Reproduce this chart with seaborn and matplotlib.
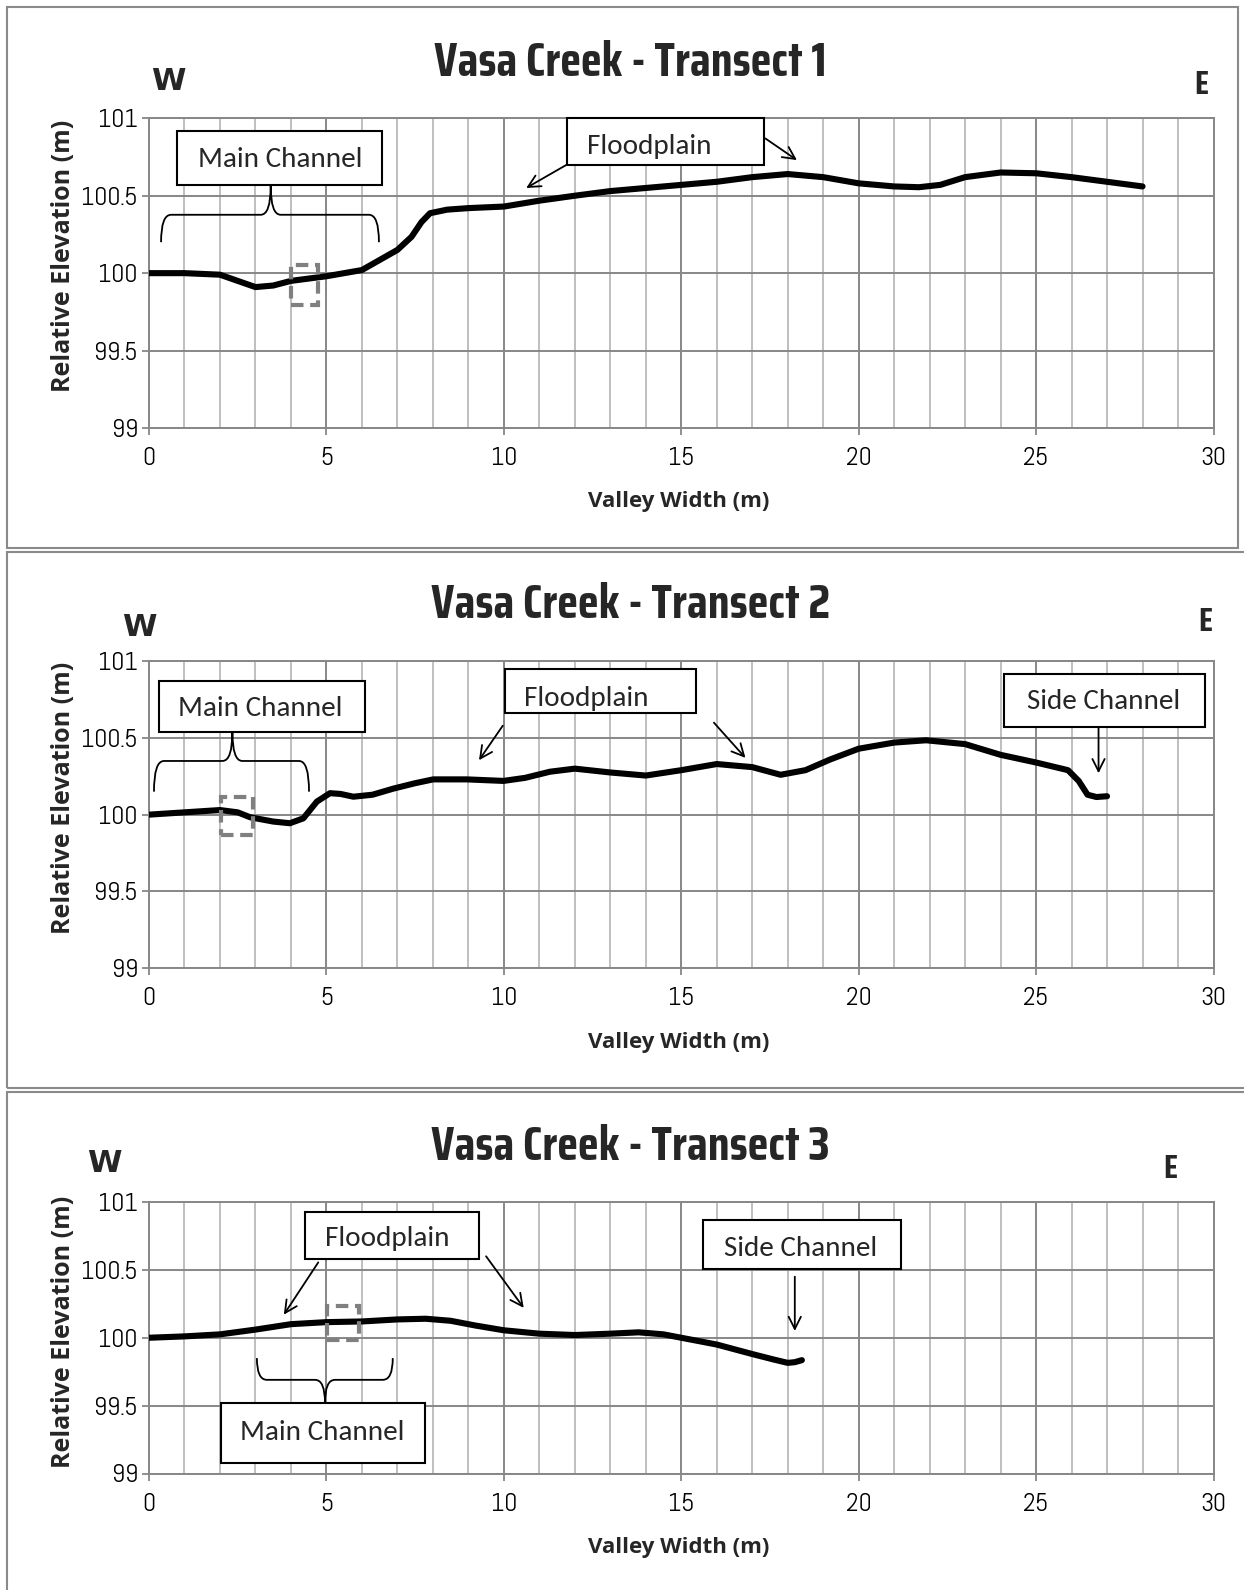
import matplotlib
matplotlib.use("Agg")
import matplotlib.pyplot as plt
import seaborn as sns
from matplotlib import font_manager
from matplotlib.patches import Rectangle, PathPatch
from matplotlib.path import Path

# ---------------- data ----------------
t1_x = [0, 1, 2, 2.5, 3, 3.5, 4, 5, 6, 6.5, 7, 7.4, 7.68, 7.92, 8.4, 9, 10, 11, 12, 13, 14,
        15, 16, 17, 18, 19, 20, 21, 21.7, 22.3, 23, 24, 25, 26, 27, 28]
t1_y = [100.0, 100.0, 99.99, 99.95, 99.91, 99.92, 99.95, 99.98, 100.02, 100.085, 100.15,
        100.235, 100.33, 100.387, 100.41, 100.42, 100.43, 100.468, 100.50, 100.53, 100.55,
        100.57, 100.59, 100.62, 100.64, 100.62, 100.58, 100.56, 100.555, 100.57, 100.62,
        100.65, 100.645, 100.62, 100.59, 100.56]

t2_x = [0, 1, 2, 2.5, 2.85, 3.5, 3.97, 4.35, 4.73, 5.1, 5.4, 5.76, 6.3, 6.89, 7.5, 8.01,
        8.95, 9.99, 10.6, 11.3, 12, 13, 14, 15, 16, 17, 17.8, 18.5, 19.2, 20, 21, 21.9, 23,
        24, 25, 25.9, 26.2, 26.45, 26.7, 27]
t2_y = [100.0, 100.015, 100.03, 100.015, 99.983, 99.955, 99.944, 99.976, 100.085, 100.14,
        100.135, 100.117, 100.13, 100.17, 100.205, 100.23, 100.23, 100.22, 100.24, 100.28,
        100.30, 100.275, 100.255, 100.29, 100.33, 100.31, 100.26, 100.29, 100.36, 100.43,
        100.47, 100.485, 100.46, 100.39, 100.34, 100.29, 100.22, 100.13, 100.115, 100.12]

t3_x = [0, 1, 2, 3, 4, 5, 6, 7, 7.8, 8.5, 9.2, 10, 11, 12, 13, 13.8, 14.5, 15, 16, 17,
        17.6, 18, 18.2, 18.4]
t3_y = [100.0, 100.01, 100.025, 100.06, 100.1, 100.115, 100.12, 100.135, 100.14, 100.125,
        100.09, 100.055, 100.03, 100.02, 100.03, 100.04, 100.025, 100.0, 99.95, 99.88,
        99.84, 99.815, 99.82, 99.835]

titles = ["Vasa Creek - Transect 1", "Vasa Creek - Transect 2", "Vasa Creek - Transect 3"]
x_ticks = [0, 5, 10, 15, 20, 25, 30]
x_tick_labels = ["0", "5", "10", "15", "20", "25", "30"]
y_ticks = [99, 99.5, 100, 100.5, 101]
y_tick_labels = ["99", "99.5", "100", "100.5", "101"]
x_label = "Valley Width (m)"
y_label = "Relative Elevation (m)"

# ---------------- style ----------------
sns.set_style("white")
_avail = {f.name for f in font_manager.fontManager.ttflist}


def pick(prefs):
    got = [p for p in prefs if p in _avail]
    return got + ["DejaVu Sans"]


TITLEFONT = pick(["Saira Extra Condensed", "Saira Condensed", "Oswald", "Barlow Condensed",
                  "Roboto Condensed", "Archivo Narrow", "Asap Condensed"])
TICKFONT = pick(["Abel", "Saira Extra Condensed", "Archivo Narrow", "Asap Condensed"])
BOXFONT = pick(["Carlito", "Lato", "Open Sans"])
LABFONT = pick(["Open Sans", "Noto Sans"])
plt.rcParams["font.family"] = ["DejaVu Sans"]

GRID_MAJ = "#878787"
GRID_MIN = "#bfbfbf"

W, H = 1244, 1590
fig = plt.figure(figsize=(W / 100, H / 100), dpi=100)


def fx(px):
    return px / W


def fy(py):
    return 1 - py / H


for (l, t, r, b) in [(7, 7, 1238, 548), (7, 552, 1250, 1088), (7, 1092, 1250, 1600)]:
    fig.add_artist(Rectangle((fx(l), fy(b)), fx(r - l), (b - t) / H, fill=False,
                             edgecolor="#8a8a8a", lw=1.5, transform=fig.transFigure))

L, R = 149, 1213.5
axes_px = [(118.3, 428), (661.3, 968), (1202, 1473.5)]
title_y = [62, 604, 1146]
w_pos = [(168, 82), (139, 628), (104, 1163)]
e_pos = [(1201, 85), (1205, 622), (1170, 1169)]
ylab_frac = [0.555, 0.555, 0.52]
xlab_off = [-0.203, -0.209, -0.234]

series = [(t1_x, t1_y), (t2_x, t2_y), (t3_x, t3_y)]

boxes = [
    [((0.8, 100.567), (6.57, 100.92), "Main Channel", (3.69, 100.735)),
     ((11.77, 100.70), (17.33, 101.0), "Floodplain", (14.09, 100.82))],
    [((0.28, 100.54), (6.09, 100.87), "Main Channel", (3.14, 100.69)),
     ((10.03, 100.66), (15.41, 100.95), "Floodplain", (12.31, 100.76)),
     ((24.09, 100.57), (29.76, 100.92), "Side Channel", (26.89, 100.74))],
    [((4.4, 100.58), (9.29, 100.93), "Floodplain", (6.71, 100.73)),
     ((2.02, 99.077), (7.77, 99.52), "Main Channel", (4.89, 99.30)),
     ((15.6, 100.51), (21.2, 100.865), "Side Channel", (18.37, 100.66))],
]
arrows = [
    [((11.77, 100.70), (10.63, 100.55)), ((17.37, 100.87), (18.26, 100.73))],
    [((9.97, 100.58), (9.30, 100.355)), ((15.92, 100.60), (16.81, 100.37)),
     ((26.76, 100.565), (26.76, 100.27))],
    [((4.77, 100.555), (3.80, 100.17)), ((9.50, 100.60), (10.56, 100.22)),
     ((18.2, 100.45), (18.2, 100.05))],
]
braces = [(0.34, 6.48, 100.20, 100.377, 3.43, 100.565),
          (0.14, 4.51, 100.15, 100.35, 2.35, 100.54),
          (3.04, 6.87, 99.85, 99.69, 4.96, 99.52)]
squares = [((4.0, 99.795), (4.77, 100.053)),
           ((2.03, 99.87), (2.93, 100.115)),
           ((5.02, 99.98), (5.91, 100.236))]


def draw_brace(ax, x0, x1, yend, ybar, xt, ytip):
    dx = 0.28
    verts = [(x0, yend), (x0, ybar), (x0 + dx, ybar),
             (xt - dx, ybar), (xt, ybar), (xt, ytip),
             (xt, ybar), (xt + dx, ybar),
             (x1 - dx, ybar), (x1, ybar), (x1, yend)]
    codes = [Path.MOVETO, Path.CURVE3, Path.CURVE3,
             Path.LINETO, Path.CURVE3, Path.CURVE3,
             Path.CURVE3, Path.CURVE3,
             Path.LINETO, Path.CURVE3, Path.CURVE3]
    ax.add_patch(PathPatch(Path(verts, codes), fill=False, edgecolor="black",
                           lw=1.3, zorder=6, clip_on=False))


for i, (top, bot) in enumerate(axes_px):
    ax = fig.add_axes([fx(L), fy(bot), (R - L) / W, (bot - top) / H])
    xs, ys = series[i]
    sns.lineplot(x=xs, y=ys, ax=ax, color="black", linewidth=4.4, sort=False,
                 estimator=None, zorder=4, solid_capstyle="round", solid_joinstyle="round")
    ax.set_xlim(0, 30)
    ax.set_ylim(99, 101)
    ax.set_xticks(x_ticks)
    ax.set_xticks(range(0, 31), minor=True)
    ax.set_yticks(y_ticks)
    ax.set_xticklabels(x_tick_labels, fontfamily=TICKFONT, fontsize=18.5)
    ax.set_yticklabels(y_tick_labels, fontfamily=TICKFONT, fontsize=18.5)
    ax.set_axisbelow(True)
    ax.grid(which="major", color=GRID_MAJ, lw=1.4)
    ax.grid(which="minor", axis="x", color=GRID_MIN, lw=1.4)
    ax.tick_params(which="major", direction="out", length=5, width=1.3, color=GRID_MAJ,
                   bottom=True, left=True, labelcolor="black")
    ax.tick_params(axis="x", which="major", pad=9)
    ax.tick_params(axis="y", which="major", pad=3)
    ax.tick_params(which="minor", length=0)
    for sp in ax.spines.values():
        sp.set_visible(True)
        sp.set_color(GRID_MAJ)
        sp.set_linewidth(1.4)

    ax.set_xlabel(x_label, fontsize=16, fontweight="bold", fontfamily=LABFONT)
    ax.set_ylabel(y_label, fontsize=18, fontweight="bold", fontfamily=LABFONT)
    ax.xaxis.set_label_coords(0.498, xlab_off[i])
    ax.yaxis.set_label_coords(-0.0686, ylab_frac[i])

    for (p0, p1, txt, tp) in boxes[i]:
        ax.add_patch(Rectangle(p0, p1[0] - p0[0], p1[1] - p0[1], facecolor="white",
                               edgecolor="black", lw=1.5, zorder=5, clip_on=False))
        ax.text(tp[0], tp[1], txt, ha="center", va="center", fontsize=21,
                fontfamily=BOXFONT, zorder=6)
    for (s, e) in arrows[i]:
        ax.annotate("", xy=e, xytext=s,
                    arrowprops=dict(arrowstyle="->", color="black", lw=1.3,
                                    mutation_scale=22, shrinkA=0, shrinkB=0),
                    zorder=6, annotation_clip=False)
    draw_brace(ax, *braces[i])
    (sx0, sy0), (sx1, sy1) = squares[i]
    ax.add_patch(Rectangle((sx0, sy0), sx1 - sx0, sy1 - sy0, fill=False,
                           edgecolor="#808080", lw=3, linestyle=(0, (3, 1.6)), zorder=7))

    fig.text(0.507, fy(title_y[i]), titles[i], ha="center", va="center",
             fontsize=35, fontweight="bold", fontfamily=TITLEFONT)
    fig.text(fx(w_pos[i][0]), fy(w_pos[i][1]), "W", ha="center", va="center",
             fontsize=22.5, fontweight="bold", fontfamily=["DejaVu Sans"])
    fig.text(fx(e_pos[i][0]), fy(e_pos[i][1]), "E", ha="center", va="center",
             fontsize=24, fontweight="bold", fontfamily=TITLEFONT)

fig.savefig("out.png", dpi=100, facecolor="white")
